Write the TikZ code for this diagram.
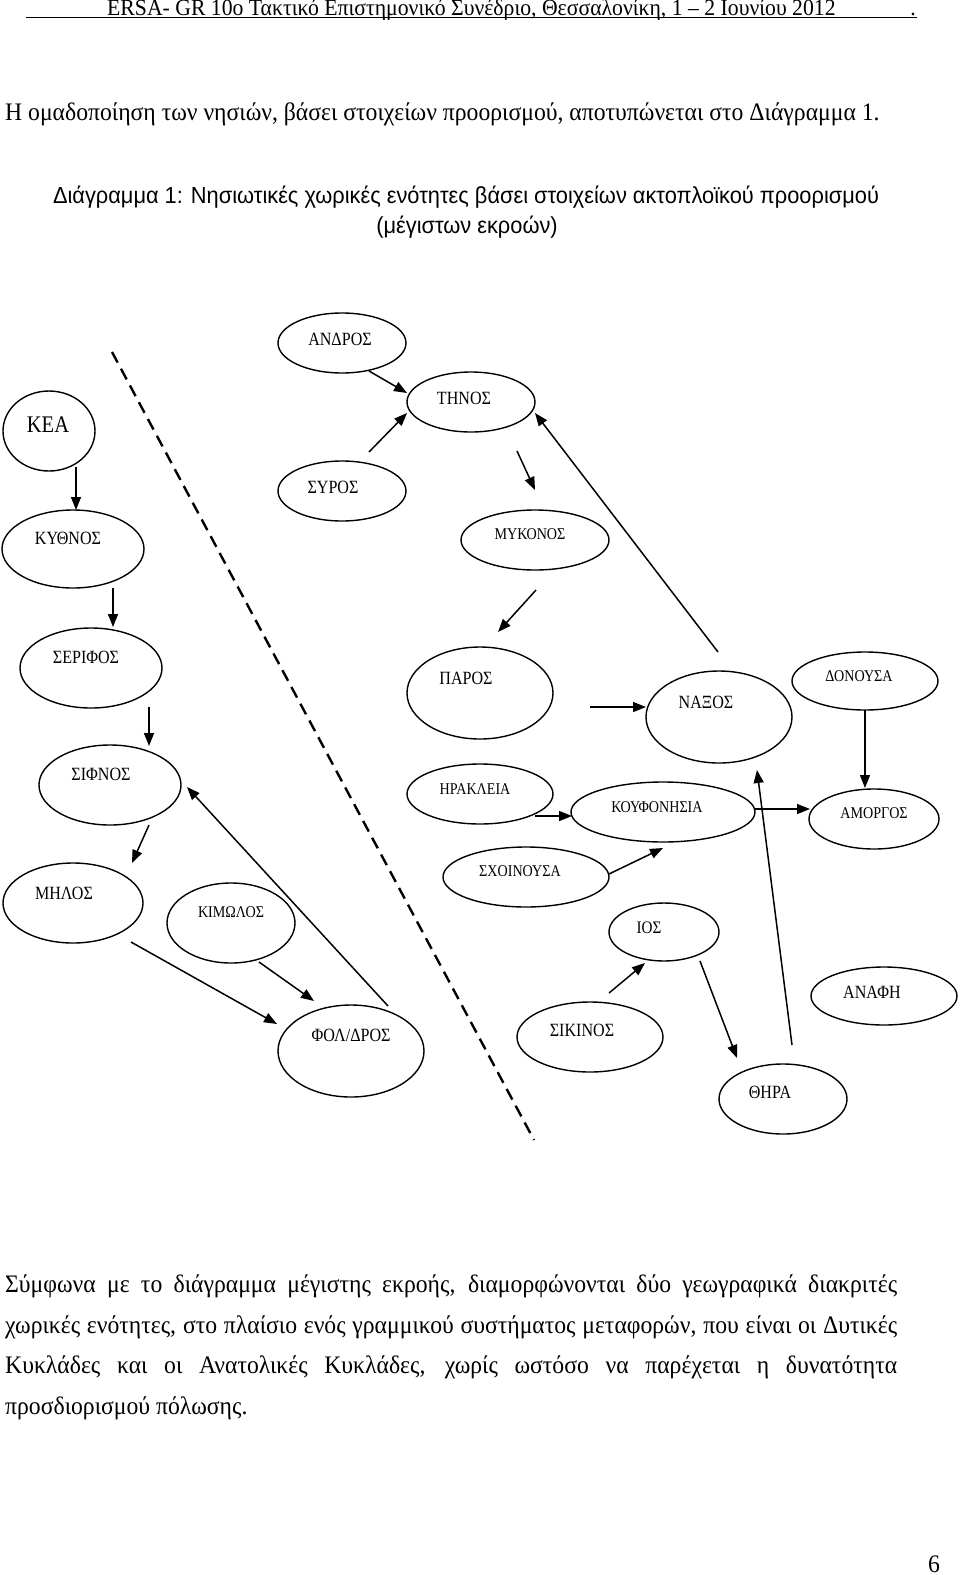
\documentclass[tikz,border=0pt]{standalone}
\usepackage{fontspec}
\setmainfont{Liberation Serif}[FakeStretch=0.94]
\newfontfamily\islefont{Liberation Serif}[FakeStretch=0.86]
\newfontfamily\capfont{Liberation Sans}[FakeStretch=0.94]
\usetikzlibrary{shapes.geometric,arrows.meta}

\begin{document}
\begin{tikzpicture}[x=1pt,y=-1pt,
    isle/.style={draw, ellipse, line width=1.4pt, inner sep=0pt},
    lbl/.style={font=\islefont\fontsize{18.7}{20}\selectfont, inner sep=0pt},
    lbls/.style={font=\islefont\fontsize{16.4}{18}\selectfont, inner sep=0pt},
    flow/.style={line width=1.5pt, -{Triangle[length=13pt,width=10pt]}},
    divider/.style={line width=2.4pt, dash pattern=on 12pt off 7pt},
    body/.style={font=\fontsize{25.2}{28}\selectfont, inner sep=0pt, anchor=base west},
    hdr/.style={font=\fontsize{23.1}{26}\selectfont, inner sep=0pt},
    capt/.style={font=\capfont\fontsize{23.2}{27}\selectfont, inner sep=0pt, anchor=base}]
\useasboundingbox[fill=white] (0,0) rectangle (960,1575);

% page text
\node[hdr, anchor=base west] (header) at (107,15) {ERSA- GR 10ο Τακτικό Επιστημονικό Συνέδριο, Θεσσαλονίκη, 1 – 2 Ιουνίου 2012};
\node[hdr, anchor=base] (headerdot) at (913,15) {.};
\draw[line width=0.9pt] (26,17.5) -- (917,17.5);
\node[body] (intro) at (5,120) {Η ομαδοποίηση των νησιών, βάσει στοιχείων προορισμού, αποτυπώνεται στο Διάγραμμα 1.};
\node[capt] (cap1) at (466,203) {Διάγραμμα 1: Νησιωτικές χωρικές ενότητες βάσει στοιχείων ακτοπλοϊκού προορισμού};
\node[capt] (cap2) at (467,233) {(μέγιστων εκροών)};

% islands
\node[isle, minimum width=128pt, minimum height=60pt, label={[lbl, shift={(-2,-4)}]center:ΑΝΔΡΟΣ}] (andros) at (342,343) {};
\node[isle, minimum width=92pt, minimum height=80pt, label={[lbl, font=\islefont\fontsize{23.8}{26}\selectfont, shift={(-1,-6)}]center:ΚΕΑ}] (kea) at (49,431) {};
\node[isle, minimum width=142pt, minimum height=78pt, label={[lbl, shift={(-5,-11)}]center:ΚΥΘΝΟΣ}] (kythnos) at (73,549) {};
\node[isle, minimum width=128pt, minimum height=60pt, label={[lbl, shift={(-9,-4)}]center:ΣΥΡΟΣ}] (syros) at (342,491) {};
\node[isle, minimum width=128pt, minimum height=60pt, label={[lbl, shift={(-7,-4)}]center:ΤΗΝΟΣ}] (tinos) at (471,402) {};
\node[isle, minimum width=148pt, minimum height=60pt, label={[lbls, shift={(-5,-6)}]center:ΜΥΚΟΝΟΣ}] (mykonos) at (535,540) {};
\node[isle, minimum width=142pt, minimum height=80pt, label={[lbl, shift={(-5,-11)}]center:ΣΕΡΙΦΟΣ}] (serifos) at (91,668) {};
\node[isle, minimum width=142pt, minimum height=80pt, label={[lbl, shift={(-9,-11)}]center:ΣΙΦΝΟΣ}] (sifnos) at (110,785) {};
\node[isle, minimum width=140pt, minimum height=80pt, label={[lbl, shift={(-9,-10)}]center:ΜΗΛΟΣ}] (milos) at (73,903) {};
\node[isle, minimum width=128pt, minimum height=80pt, label={[lbls, shift={(0,-11)}]center:ΚΙΜΩΛΟΣ}] (kimolos) at (231,923) {};
\node[isle, minimum width=146pt, minimum height=92pt, label={[lbl, shift={(0,-16)}]center:ΦΟΛ/ΔΡΟΣ}] (folegandros) at (351,1051) {};
\node[isle, minimum width=146pt, minimum height=92pt, label={[lbl, shift={(-14,-15)}]center:ΠΑΡΟΣ}] (paros) at (480,693) {};
\node[isle, minimum width=146pt, minimum height=92pt, label={[lbl, shift={(-13,-15)}]center:ΝΑΞΟΣ}] (naxos) at (719,717) {};
\node[isle, minimum width=146pt, minimum height=58pt, label={[lbls, shift={(-6,-5)}]center:ΔΟΝΟΥΣΑ}] (donousa) at (865,681) {};
\node[isle, minimum width=146pt, minimum height=60pt, label={[lbls, shift={(-5,-5)}]center:ΗΡΑΚΛΕΙΑ}] (irakleia) at (480,794) {};
\node[isle, minimum width=184pt, minimum height=60pt, label={[lbls, shift={(-6,-5)}]center:ΚΟΥΦΟΝΗΣΙΑ}] (koufonisia) at (663,812) {};
\node[isle, minimum width=130pt, minimum height=60pt, label={[lbls, shift={(0,-6)}]center:ΑΜΟΡΓΟΣ}] (amorgos) at (874,819) {};
\node[isle, minimum width=166pt, minimum height=60pt, label={[lbls, shift={(-6,-6)}]center:ΣΧΟΙΝΟΥΣΑ}] (schoinousa) at (526,877) {};
\node[isle, minimum width=110pt, minimum height=58pt, label={[lbl, font=\islefont\fontsize{17.6}{19}\selectfont, shift={(-15,-4)}]center:ΙΟΣ}] (ios) at (664,932) {};
\node[isle, minimum width=146pt, minimum height=70pt, label={[lbl, shift={(-8,-7)}]center:ΣΙΚΙΝΟΣ}] (sikinos) at (590,1037) {};
\node[isle, minimum width=146pt, minimum height=58pt, label={[lbl, shift={(-12,-4)}]center:ΑΝΑΦΗ}] (anafi) at (884,996) {};
\node[isle, minimum width=128pt, minimum height=70pt, label={[lbl, shift={(-13,-7)}]center:ΘΗΡΑ}] (thira) at (783,1099) {};

% west / east split
\coordinate (divtop) at (112,352);
\coordinate (divbot) at (534,1140);
\draw[divider] (divtop) -- (divbot);

% flows
\draw[flow] ([shift={(27,36)}]kea.center) -- ([shift={(3,-39)}]kythnos.center);
\draw[flow] ([shift={(40,39)}]kythnos.center) -- ([shift={(22,-41)}]serifos.center);
\draw[flow] ([shift={(58,39)}]serifos.center) -- ([shift={(39,-39)}]sifnos.center);
\draw[flow] ([shift={(39,40)}]sifnos.center) -- ([shift={(59,-40)}]milos.center);
\draw[flow] ([shift={(58,39)}]milos.center) -- ([shift={(-74,-27)}]folegandros.center);
\draw[flow] ([shift={(28,39)}]kimolos.center) -- ([shift={(-37,-50)}]folegandros.center);
\draw[flow] ([shift={(37,-45)}]folegandros.center) -- ([shift={(77,2)}]sifnos.center);
\draw[flow] ([shift={(27,28)}]andros.center) -- ([shift={(-64,-9)}]tinos.center);
\draw[flow] ([shift={(27,-39)}]syros.center) -- ([shift={(-64,11)}]tinos.center);
\draw[flow] ([shift={(46,49)}]tinos.center) -- ([shift={(0,-50)}]mykonos.center);
\draw[flow] ([shift={(-1,-65)}]naxos.center) -- ([shift={(64,11)}]tinos.center);
\draw[flow] ([shift={(1,50)}]mykonos.center) -- ([shift={(18,-61)}]paros.center);
\draw[flow] ([shift={(110,14)}]paros.center) -- ([shift={(-73,-10)}]naxos.center);
\draw[flow] ([shift={(0,29)}]donousa.center) -- ([shift={(-9,-31)}]amorgos.center);
\draw[flow] ([shift={(55,22)}]irakleia.center) -- ([shift={(-91,4)}]koufonisia.center);
\draw[flow] ([shift={(91,-3)}]koufonisia.center) -- ([shift={(-64,-10)}]amorgos.center);
\draw[flow] ([shift={(83,-3)}]schoinousa.center) -- ([shift={(0,36)}]koufonisia.center);
\draw[flow] ([shift={(9,-54)}]thira.center) -- ([shift={(38,53)}]naxos.center);
\draw[flow] ([shift={(19,-44)}]sikinos.center) -- ([shift={(-19,31)}]ios.center);
\draw[flow] ([shift={(36,29)}]ios.center) -- ([shift={(-46,-41)}]thira.center);

% closing text
\node[body] (para1) at (5,1292) {\makebox[892pt][s]{Σύμφωνα με το διάγραμμα μέγιστης εκροής, διαμορφώνονται δύο γεωγραφικά διακριτές}};
\node[body] (para2) at (5,1333) {\makebox[892pt][s]{χωρικές ενότητες, στο πλαίσιο ενός γραμμικού συστήματος μεταφορών, που είναι οι Δυτικές}};
\node[body] (para3) at (5,1373) {\makebox[892pt][s]{Κυκλάδες και οι Ανατολικές Κυκλάδες, χωρίς ωστόσο να παρέχεται η δυνατότητα}};
\node[body] (para4) at (5,1414) {προσδιορισμού πόλωσης.};
\node[body, anchor=base] (pageno) at (934,1572) {6};
\end{tikzpicture}
\end{document}
